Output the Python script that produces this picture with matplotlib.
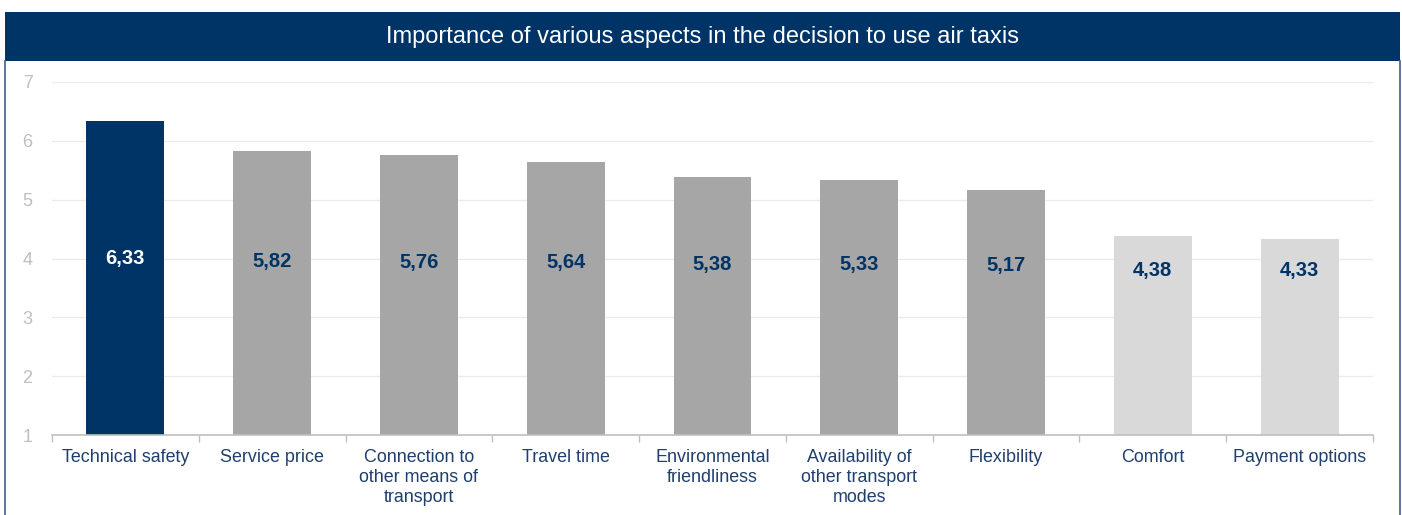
import matplotlib.pyplot as plt
import numpy as np
from matplotlib.patches import Rectangle
from matplotlib.lines import Line2D

plt.rcParams['font.family'] = ['Liberation Sans', 'DejaVu Sans']

aspects = ["Technical safety", "Service price", "Connection to\nother means of\ntransport",
           "Travel time", "Environmental\nfriendliness", "Availability of\nother transport\nmodes",
           "Flexibility", "Comfort", "Payment options"]
scores = [6.33, 5.82, 5.76, 5.64, 5.38, 5.33, 5.17, 4.38, 4.33]

NAVY = "#003366"
bar_colors = [NAVY] + ["#A6A6A6"] * 6 + ["#D9D9D9"] * 2
text_colors = ["white"] + [NAVY] * 8

fig = plt.figure(figsize=(14.02, 5.15), dpi=100)
ax = fig.add_axes([52 / 1402, 1 - 435 / 515, (1373 - 52) / 1402, (435 - 82) / 515])

x = np.arange(len(scores))
bars = ax.bar(x, np.array(scores) - 1, bottom=1, width=0.53, color=bar_colors, zorder=2)

# value labels inside the bars
for xi, v, tc in zip(x, scores, text_colors):
    ax.text(xi, 3.335 + 0.105 * v, f"{v:.2f}".replace(".", ","), ha="center", va="center",
            color=tc, fontsize=14.5, fontweight="bold", zorder=3)

ax.set_xlim(-0.5, len(scores) - 0.5)
ax.set_ylim(1, 7)
ax.set_yticks(range(1, 8))
ax.yaxis.grid(True, color="#EBEBEB", linewidth=1, zorder=0)
ax.tick_params(axis="y", length=0, labelsize=13, labelcolor="#BFBFBF", pad=14)

ax.set_xticks(x)
ax.set_xticklabels(aspects, fontsize=12.9, color="#1F3F6E", linespacing=1.24)
ax.set_xticks(np.arange(-0.5, len(scores)), minor=True)
ax.tick_params(axis="x", which="major", length=0, pad=10)
ax.tick_params(axis="x", which="minor", length=5, color="#BFBFBF", width=1)

for side in ["left", "top", "right"]:
    ax.spines[side].set_visible(False)
ax.spines["bottom"].set_color("#BFBFBF")
ax.spines["bottom"].set_linewidth(1.2)

# title band and outer frame
x0, x1 = 5 / 1402, 1400 / 1402
yb, yt = 1 - 61 / 515, 1 - 12 / 515
fig.patches.append(Rectangle((x0, yb), x1 - x0, yt - yb, transform=fig.transFigure,
                             facecolor=NAVY, edgecolor="none", zorder=0))
fig.lines.append(Line2D([x0, x0], [0, yb], transform=fig.transFigure, color="#3E5F8A", linewidth=1.2))
fig.lines.append(Line2D([x1, x1], [0, yb], transform=fig.transFigure, color="#3E5F8A", linewidth=1.2))
fig.text((x0 + x1) / 2, (yb + yt) / 2, "Importance of various aspects in the decision to use air taxis",
         ha="center", va="center", color="white", fontsize=17)

fig.savefig("out.png", dpi=100)
